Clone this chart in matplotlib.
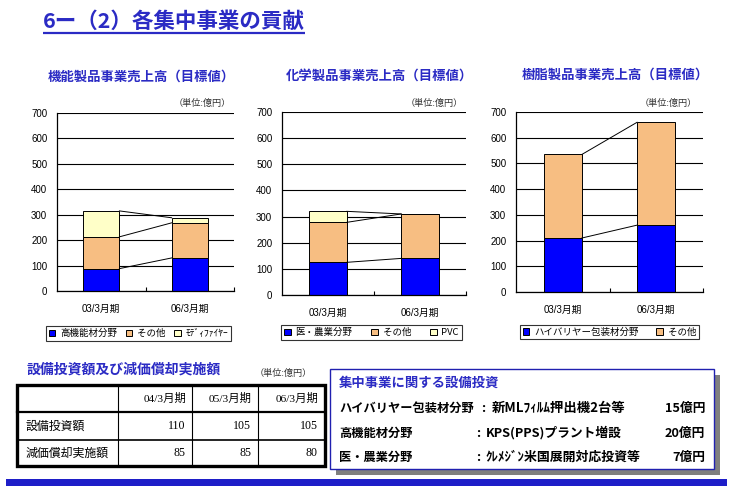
import numpy as np
import matplotlib
matplotlib.use('Agg')
import matplotlib.pyplot as plt
from matplotlib.patches import Rectangle

W, H = 749, 486

# ---------------- data ----------------
page_title = "6ー（2）各集中事業の貢献"
periods = ["03/3月期", "06/3月期"]
unit_label = "（単位:億円）"

c1_title = "機能製品事業売上高（目標値）"
c1_labels = ["高機能材分野", "その他", "ﾓﾃﾞｨﾌｧｲﾔｰ"]
c1_vals = [[88, 130], [125, 138], [102, 20]]

c2_title = "化学製品事業売上高（目標値）"
c2_labels = ["医・農業分野", "その他", "PVC"]
c2_vals = [[125, 140], [153, 170], [42, 0]]

c3_title = "樹脂製品事業売上高（目標値）"
c3_labels = ["ハイバリヤー包装材分野", "その他"]
c3_vals = [[210, 260], [325, 400]]

tbl_title = "設備投資額及び減価償却実施額"
tbl_cols = ["04/3月期", "05/3月期", "06/3月期"]
tbl_rows = ["設備投資額", "減価償却実施額"]
tbl_capex = [110, 105, 105]
tbl_depr = [85, 85, 80]

box_title = "集中事業に関する設備投資"
box_fields = ["ハイバリヤー包装材分野", "高機能材分野", "医・農業分野"]
box_items = ["新MLﾌｨﾙﾑ押出機2台等", "KPS(PPS)プラント増設", "ｸﾚﾒｼﾞﾝ米国展開対応投資等"]
box_amounts = ["15億円", "20億円", "7億円"]

# ---------------- style ----------------
BLUE_T = '#2B2BC4'
C_BLUE = '#0000FF'
C_ORNG = '#F7BE82'
C_YELL = '#FFFFC8'
SANS = ['Liberation Sans', 'Noto Sans CJK JP']
CJK = ['Noto Sans CJK JP', 'DejaVu Sans']
SERIF = ['Liberation Serif', 'Noto Sans CJK JP']

fig = plt.figure(figsize=(W / 100, H / 100), dpi=100)
fig.patch.set_facecolor('white')

ov = fig.add_axes([0, 0, 1, 1])
ov.set_xlim(0, W)
ov.set_ylim(H, 0)
ov.axis('off')


def px_rect(l, t, r, b):
    return [l / W, 1 - b / H, (r - l) / W, (b - t) / H]


def draw_chart(rect, vals, labels, colors, title, title_xy, unit_xy, legend_xy,
               colsp):
    ax = fig.add_axes(px_rect(*rect))
    x = np.arange(len(periods))
    bw = 0.41
    bottoms = np.zeros(len(periods))
    handles = []
    for v, lab, col in zip(vals, labels, colors):
        v = np.array(v, float)
        b = ax.bar(x, v, bw, bottom=bottoms, color=col, edgecolor='black',
                   linewidth=0.7, zorder=3, label=lab)
        tops = bottoms + v
        ax.plot([x[0] + bw / 2, x[1] - bw / 2], [tops[0], tops[1]],
                color='black', lw=0.7, zorder=4)
        bottoms = tops
        handles.append(b)
    ax.set_xlim(-0.5, 1.5)
    ax.set_ylim(0, 700)
    ax.set_yticks(range(0, 701, 100))
    ax.yaxis.grid(True, color='black', lw=0.8)
    ax.set_axisbelow(True)
    for s in ['top', 'right']:
        ax.spines[s].set_visible(False)
    for s in ['left', 'bottom']:
        ax.spines[s].set_linewidth(0.9)
        ax.spines[s].set_zorder(5)
    ax.set_xticks(x)
    ax.set_xticklabels(periods, fontfamily=SANS, fontsize=7)
    ax.set_xticks([0.5, 1.5], minor=True)
    ax.tick_params(axis='x', which='major', length=0, pad=9)
    ax.tick_params(axis='x', which='minor', length=3, direction='in', width=0.8)
    ax.tick_params(axis='y', length=0, pad=7, labelsize=7)
    for lbl in ax.get_yticklabels():
        lbl.set_fontfamily(SANS)
    ov.text(title_xy[0], title_xy[1], title, ha='center', va='center',
            fontsize=9.6, fontweight='bold', color=BLUE_T, fontfamily=CJK)
    ov.text(unit_xy[0], unit_xy[1], unit_label, ha='right', va='center',
            fontsize=6.6, color='#333333', fontfamily=CJK)
    leg = fig.legend(handles, labels, loc='center',
                     bbox_to_anchor=(legend_xy[0] / W, 1 - legend_xy[1] / H),
                     ncol=len(labels), frameon=True, fancybox=False,
                     edgecolor='black', handlelength=0.7,
                     handleheight=0.7, handletextpad=0.5, columnspacing=colsp,
                     borderpad=0.3, prop={'family': CJK, 'size': 6.8})
    leg.get_frame().set_linewidth(0.8)
    return ax


draw_chart((57, 113, 234, 291), c1_vals, c1_labels, [C_BLUE, C_ORNG, C_YELL],
           c1_title, (141, 77), (231, 103), (138.5, 333.5), 0.9)
draw_chart((282, 112, 466, 295), c2_vals, c2_labels, [C_BLUE, C_ORNG, C_YELL],
           c2_title, (380, 76), (463, 103), (371.5, 332.5), 2.0)
draw_chart((516, 112, 703, 292), c3_vals, c3_labels, [C_BLUE, C_ORNG],
           c3_title, (615, 75), (697, 103), (609.5, 332), 1.9)

# ---------------- page title ----------------
t = ov.text(43, 21, page_title, ha='left', va='center', fontsize=15.5,
            fontweight='bold', color=BLUE_T, fontfamily=CJK)
fig.canvas.draw()
bb = t.get_window_extent()
x0, x1 = bb.x0, bb.x1
ov.plot([x0, x1], [33, 33], color=BLUE_T, lw=1.6, solid_capstyle='butt')

# ---------------- table ----------------
ov.text(27, 370, tbl_title, ha='left', va='center', fontsize=10,
        fontweight='bold', color=BLUE_T, fontfamily=CJK)
ov.text(312, 373, unit_label, ha='right', va='center', fontsize=6.6,
        color='#333333', fontfamily=CJK)

xs = [17, 118, 192, 258, 325]
ys = [385, 412, 440, 466]
for yy, lw in zip(ys[1:-1], [1.6, 1.2]):
    ov.plot([xs[0], xs[-1]], [yy, yy], color='black', lw=lw)
for xx in xs[1:-1]:
    ov.plot([xx, xx], [ys[0], ys[-1]], color='black', lw=0.8)
ov.add_patch(Rectangle((xs[0], ys[0]), xs[-1] - xs[0], ys[-1] - ys[0],
                       fill=False, edgecolor='black', lw=2.4))
for j, c in enumerate(tbl_cols):
    ov.text(xs[j + 2] - 6, (ys[0] + ys[1]) / 2, c, ha='right', va='center',
            fontsize=8.2, fontfamily=SERIF)
for i, (rname, rv) in enumerate(zip(tbl_rows, [tbl_capex, tbl_depr])):
    yc = (ys[i + 1] + ys[i + 2]) / 2
    ov.text(26, yc, rname, ha='left', va='center', fontsize=8.6, fontfamily=CJK)
    for j, v in enumerate(rv):
        ov.text(xs[j + 2] - 7, yc, str(v), ha='right', va='center',
                fontsize=8.6, fontfamily=SERIF)

# ---------------- right box ----------------
ov.add_patch(Rectangle((336, 375), 384, 100, facecolor='#7F7F7F',
                       edgecolor='none'))
ov.add_patch(Rectangle((330, 369), 384, 100, facecolor='white',
                       edgecolor='#2020B0', lw=1.0))
ov.text(339, 383, box_title, ha='left', va='center', fontsize=9.6,
        fontweight='bold', color=BLUE_T, fontfamily=CJK)
row_y = [408, 433, 457]
colon_x = [483, 478, 478]
item_x = [492, 486, 486]
item_size = [9.6, 9.2, 9.3]
for yy, f, cx, ix, it, am, isz in zip(row_y, box_fields, colon_x, item_x,
                                       box_items, box_amounts, item_size):
    ov.text(339, yy, f, ha='left', va='center', fontsize=8.8,
            fontweight='bold', fontfamily=CJK)
    ov.text(cx, yy, ":", ha='center', va='center', fontsize=9.2,
            fontweight='bold', fontfamily=CJK)
    ov.text(ix, yy, it, ha='left', va='center', fontsize=isz,
            fontweight='bold', fontfamily=CJK)
    ov.text(705, yy, am, ha='right', va='center', fontsize=9.2,
            fontweight='bold', fontfamily=CJK)

# ---------------- bottom bar ----------------
ov.add_patch(Rectangle((6, 479), 721, 8, facecolor='#1E1EC8', edgecolor='none'))

fig.savefig('out.png', dpi=100, facecolor='white')
